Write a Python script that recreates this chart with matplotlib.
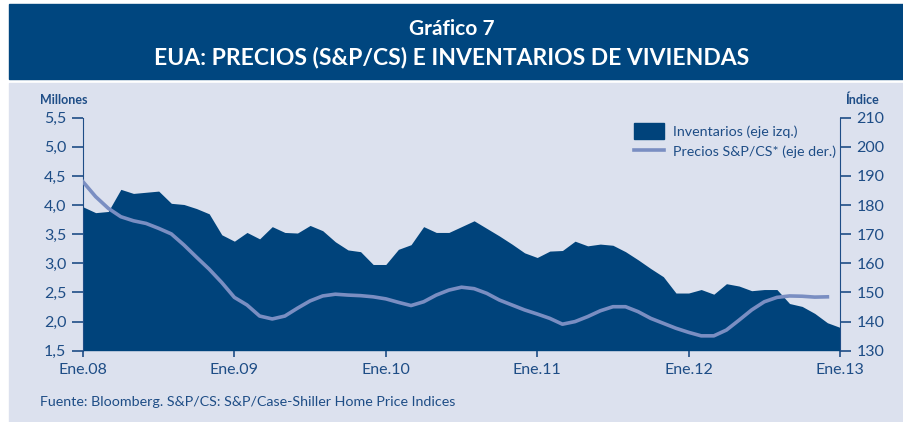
import matplotlib.pyplot as plt
import matplotlib.patches as mpatches
from matplotlib.lines import Line2D

# Inventarios de viviendas (millones), mensual ene.08 - ene.13
inventarios = [
    3.97, 3.87, 3.89, 4.27, 4.20, 4.22, 4.24, 4.03, 4.01, 3.94, 3.85, 3.49,
    3.38, 3.53, 3.42, 3.63, 3.53, 3.52, 3.65, 3.56, 3.37, 3.23, 3.20, 2.98,
    2.98, 3.24, 3.32, 3.63, 3.53, 3.53, 3.63, 3.73, 3.60, 3.47, 3.33, 3.18,
    3.10, 3.21, 3.22, 3.38, 3.30, 3.33, 3.31, 3.20, 3.06, 2.91, 2.77, 2.49,
    2.49, 2.55, 2.47, 2.65, 2.61, 2.53, 2.55, 2.55, 2.31, 2.26, 2.14, 1.98,
    1.90,
]

# Precios S&P/Case-Shiller (indice), mensual ene.08 - dic.12
precios = [
    188.0, 182.9, 178.9, 176.0, 174.6, 173.7, 172.0, 170.1, 166.3, 162.1, 158.0, 153.4,
    148.3, 145.7, 141.9, 140.9, 141.9, 144.6, 147.1, 148.8, 149.4, 149.1, 148.9, 148.5,
    147.8, 146.6, 145.5, 146.8, 149.1, 150.8, 151.8, 151.3, 149.7, 147.4, 145.7, 144.0,
    142.6, 141.1, 139.1, 140.0, 141.7, 143.7, 145.1, 145.1, 143.4, 141.1, 139.4, 137.7,
    136.3, 135.1, 135.1, 137.1, 140.5, 144.0, 146.8, 148.3, 148.8, 148.7, 148.4, 148.5,
]

x_labels = ['Ene.08', 'Ene.09', 'Ene.10', 'Ene.11', 'Ene.12', 'Ene.13']
y_left = [1.5, 2.0, 2.5, 3.0, 3.5, 4.0, 4.5, 5.0, 5.5]
y_right = [130, 140, 150, 160, 170, 180, 190, 200, 210]

AZUL = '#00437b'
LINEA = '#7a8ec2'
TEXTO = '#1e4d86'
FONDO = '#dce1ee'
FONT = 'Lato'

fig = plt.figure(figsize=(9.04, 4.22), dpi=100)
W, H = 904, 422

# banda del titulo y panel de fondo
fig.patches.append(mpatches.Rectangle((9 / W, (H - 79) / H), (W - 9) / W, 75 / H,
                                      transform=fig.transFigure, color='#00467f', zorder=-5))
fig.patches.append(mpatches.Rectangle((9 / W, 0), (W - 9) / W, (H - 83) / H,
                                      transform=fig.transFigure, color=FONDO, zorder=-5))

fig.text(0.5, (H - 29) / H, 'Gráfico 7', ha='center', va='center', color='white',
         fontsize=15, fontweight='bold', family=FONT)
fig.text(0.5, (H - 57) / H, 'EUA: PRECIOS (S&P/CS) E INVENTARIOS DE VIVIENDAS', ha='center',
         va='center', color='white', fontsize=16.5, fontweight='bold', family=FONT)

ax = fig.add_axes([83 / W, (H - 350.7) / H, (840 - 83) / W, 233 / H])
ax.set_facecolor('none')
ax.set_zorder(2)
meses = list(range(len(inventarios)))
ax.fill_between(meses, inventarios, 1.5, color=AZUL, linewidth=0)
ax.set_xlim(0, 60)
ax.set_ylim(1.5, 5.5)
ax.set_yticks(y_left)
ax.set_yticklabels([f'{v:.1f}'.replace('.', ',') for v in y_left])
ax.set_xticks(range(0, 61, 12))
ax.set_xticklabels(x_labels)

ax2 = ax.twinx()
ax2.set_zorder(3)
ax2.plot(range(len(precios)), precios, color=LINEA, linewidth=2.6)
ax2.set_ylim(130, 210)
ax2.set_yticks(y_right)
ax2.set_xlim(0, 60)

for a in (ax, ax2):
    for s in ('top', 'bottom'):
        a.spines[s].set_visible(False)
    a.spines['left'].set_color(TEXTO)
    a.spines['right'].set_color(TEXTO)
    a.tick_params(colors=TEXTO, labelsize=11.5, width=1.2)
    for lab in a.get_xticklabels() + a.get_yticklabels():
        lab.set_family(FONT)
ax.spines['right'].set_visible(False)
ax2.spines['left'].set_visible(False)
ax.tick_params(axis='y', length=8, pad=4)
ax.tick_params(axis='x', length=4, pad=5)
ax2.tick_params(axis='y', length=8, pad=4)

fig.text(64 / W, (H - 100) / H, 'Millones', ha='center', va='center', color=TEXTO,
         fontsize=9, fontweight='bold', family=FONT)
fig.text(862 / W, (H - 100) / H, 'Índice', ha='center', va='center', color=TEXTO,
         fontsize=9, fontweight='bold', family=FONT)

handles = [mpatches.Patch(color=AZUL), Line2D([0], [0], color=LINEA, linewidth=2.6)]
leg = ax2.legend(handles, ['Inventarios (eje izq.)', 'Precios S&P/CS* (eje der.)'],
                 loc='upper left', bbox_to_anchor=(0.7145, 1.02), frameon=False,
                 prop={'family': FONT, 'size': 10.3}, handlelength=2.1, handleheight=1.3,
                 labelspacing=0.35, handletextpad=0.6, borderaxespad=0.3)
for t in leg.get_texts():
    t.set_color(TEXTO)

fig.text(40 / W, (H - 402) / H, 'Fuente: Bloomberg. S&P/CS: S&P/Case-Shiller Home Price Indices',
         ha='left', va='center', color=TEXTO, fontsize=10.3, family=FONT)

fig.savefig('out.png', dpi=100)
